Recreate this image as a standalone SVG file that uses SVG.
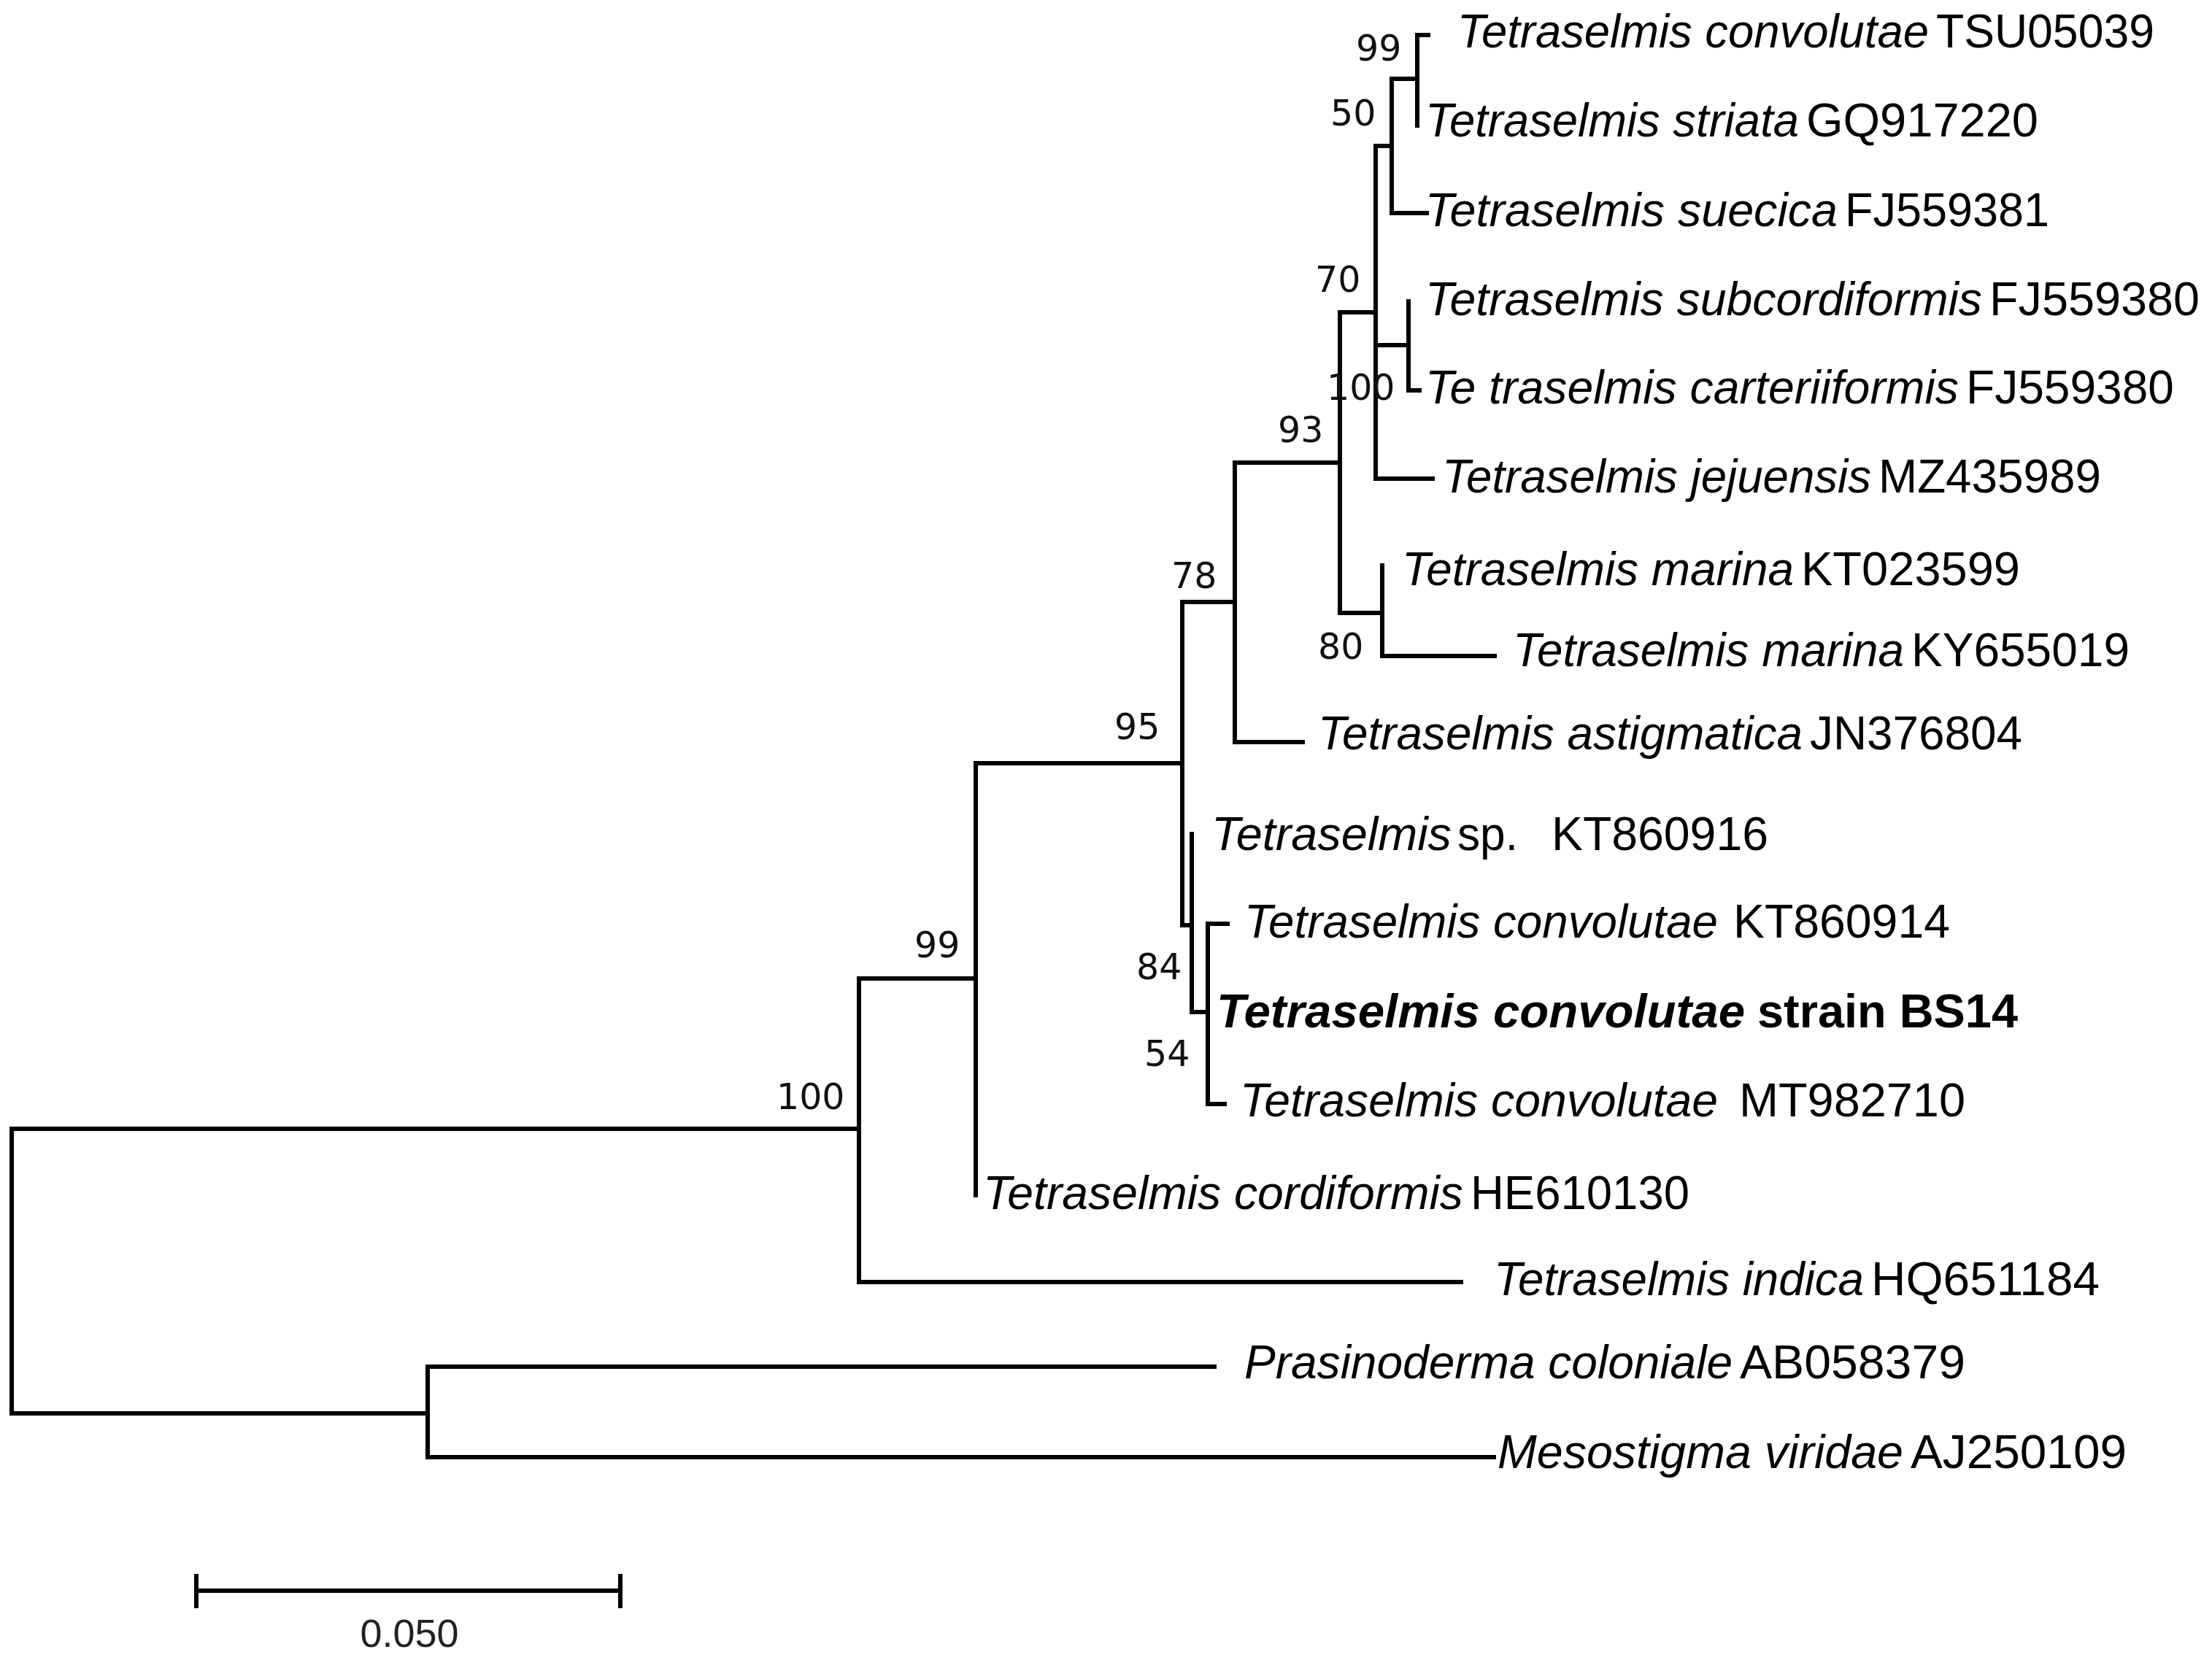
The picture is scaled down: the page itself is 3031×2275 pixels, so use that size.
<svg xmlns="http://www.w3.org/2000/svg" width="3031" height="2275" viewBox="0 0 3031 2275">
<style>
.br{fill:none;stroke:#000;stroke-width:6;stroke-linecap:square;stroke-linejoin:miter}
.lab{font-family:"Liberation Sans",Arial,sans-serif;font-size:65px;fill:#000}
.it{font-style:italic}
.b{font-weight:bold}
.bs{font-family:"DejaVu Sans",Verdana,sans-serif;font-size:49px;fill:#111}
.sc{font-family:"Liberation Sans",Arial,sans-serif;font-size:54px;fill:#222;text-anchor:middle}
</style>
<rect width="3031" height="2275" fill="#fff"/>
<g id="connectors">
<path class="br" d="M1177 1547 H16 V1937 H586"/>
<path class="br" d="M1337 1341 H1177 V1757 H2002"/>
<path class="br" d="M1620 1046 H1337 V1638"/>
<path class="br" d="M1692 825 H1620 V1268 H1633"/>
<path class="br" d="M1633 1143 V1387 H1655"/>
<path class="br" d="M1682 1266 H1655 V1513 H1678"/>
<path class="br" d="M1836 634 H1692 V1017 H1785"/>
<path class="br" d="M1885 428 H1836 V840 H1894"/>
<path class="br" d="M1894 775 V899 H2048"/>
<path class="br" d="M1907 200 H1885 V656 H1963"/>
<path class="br" d="M1942 108 H1907 V292 H1955"/>
<path class="br" d="M1957 48 H1942 V172"/>
<path class="br" d="M1885 473 H1930"/>
<path class="br" d="M1930 413 V535 H1945"/>
<path class="br" d="M1664 1873 H586 V1997 H2047"/>
</g>
<g id="bootstrap">
<text class="bs" x="1858" y="83">99</text>
<text class="bs" x="1823" y="172">50</text>
<text class="bs" x="1802" y="400">70</text>
<text class="bs" x="1818" y="548">100</text>
<text class="bs" x="1751" y="606">93</text>
<text class="bs" x="1806" y="903">80</text>
<text class="bs" x="1605" y="806">78</text>
<text class="bs" x="1527" y="1013">95</text>
<text class="bs" x="1557" y="1342">84</text>
<text class="bs" x="1568" y="1461">54</text>
<text class="bs" x="1253" y="1312">99</text>
<text class="bs" x="1064" y="1520">100</text>
</g>
<g id="leaf-TSU05039">
<text class="lab it" x="1997" y="65" textLength="646" lengthAdjust="spacingAndGlyphs">Tetraselmis convolutae</text>
<text class="lab" x="2653" y="65" textLength="299" lengthAdjust="spacingAndGlyphs">TSU05039</text>
</g>
<g id="leaf-GQ917220">
<text class="lab it" x="1953" y="187" textLength="512" lengthAdjust="spacingAndGlyphs">Tetraselmis striata</text>
<text class="lab" x="2475" y="187" textLength="318" lengthAdjust="spacingAndGlyphs">GQ917220</text>
</g>
<g id="leaf-FJ559381">
<text class="lab it" x="1953" y="310" textLength="565" lengthAdjust="spacingAndGlyphs">Tetraselmis suecica</text>
<text class="lab" x="2528" y="310" textLength="280" lengthAdjust="spacingAndGlyphs">FJ559381</text>
</g>
<g id="leaf-FJ559380-subcordiformis">
<text class="lab it" x="1953" y="432" textLength="763" lengthAdjust="spacingAndGlyphs">Tetraselmis subcordiformis</text>
<text class="lab" x="2726" y="432" textLength="288" lengthAdjust="spacingAndGlyphs">FJ559380</text>
</g>
<g id="leaf-FJ559380-carteriiformis">
<text class="lab it" x="1953" y="553" textLength="731" lengthAdjust="spacingAndGlyphs">Te traselmis carteriiformis</text>
<text class="lab" x="2694" y="553" textLength="285" lengthAdjust="spacingAndGlyphs">FJ559380</text>
</g>
<g id="leaf-MZ435989">
<text class="lab it" x="1976" y="675" textLength="588" lengthAdjust="spacingAndGlyphs">Tetraselmis jejuensis</text>
<text class="lab" x="2574" y="675" textLength="305" lengthAdjust="spacingAndGlyphs">MZ435989</text>
</g>
<g id="leaf-KT023599">
<text class="lab it" x="1921" y="802" textLength="537" lengthAdjust="spacingAndGlyphs">Tetraselmis marina</text>
<text class="lab" x="2468" y="802" textLength="300" lengthAdjust="spacingAndGlyphs">KT023599</text>
</g>
<g id="leaf-KY655019">
<text class="lab it" x="2073" y="913" textLength="536" lengthAdjust="spacingAndGlyphs">Tetraselmis marina</text>
<text class="lab" x="2619" y="913" textLength="299" lengthAdjust="spacingAndGlyphs">KY655019</text>
</g>
<g id="leaf-JN376804">
<text class="lab it" x="1806" y="1027" textLength="664" lengthAdjust="spacingAndGlyphs">Tetraselmis astigmatica</text>
<text class="lab" x="2480" y="1027" textLength="291" lengthAdjust="spacingAndGlyphs">JN376804</text>
</g>
<g id="leaf-KT860916">
<text class="lab it" x="1660" y="1165" textLength="329" lengthAdjust="spacingAndGlyphs">Tetraselmis</text>
<text class="lab" x="1997" y="1165" textLength="83" lengthAdjust="spacingAndGlyphs">sp.</text>
<text class="lab" x="2126" y="1165" textLength="297" lengthAdjust="spacingAndGlyphs">KT860916</text>
</g>
<g id="leaf-KT860914">
<text class="lab it" x="1705" y="1285" textLength="649" lengthAdjust="spacingAndGlyphs">Tetraselmis convolutae</text>
<text class="lab" x="2375" y="1285" textLength="297" lengthAdjust="spacingAndGlyphs">KT860914</text>
</g>
<g id="leaf-BS14">
<text class="lab it b" x="1667" y="1408" textLength="724" lengthAdjust="spacingAndGlyphs">Tetraselmis convolutae</text>
<text class="lab b" x="2408" y="1408" textLength="357" lengthAdjust="spacingAndGlyphs">strain BS14</text>
</g>
<g id="leaf-MT982710">
<text class="lab it" x="1699" y="1530" textLength="655" lengthAdjust="spacingAndGlyphs">Tetraselmis convolutae</text>
<text class="lab" x="2383" y="1530" textLength="310" lengthAdjust="spacingAndGlyphs">MT982710</text>
</g>
<g id="leaf-HE610130">
<text class="lab it" x="1347" y="1657" textLength="658" lengthAdjust="spacingAndGlyphs">Tetraselmis cordiformis</text>
<text class="lab" x="2015" y="1657" textLength="300" lengthAdjust="spacingAndGlyphs">HE610130</text>
</g>
<g id="leaf-HQ651184">
<text class="lab it" x="2047" y="1775" textLength="507" lengthAdjust="spacingAndGlyphs">Tetraselmis indica</text>
<text class="lab" x="2564" y="1775" textLength="313" lengthAdjust="spacingAndGlyphs">HQ651184</text>
</g>
<g id="leaf-AB058379">
<text class="lab it" x="1705" y="1889" textLength="669" lengthAdjust="spacingAndGlyphs">Prasinoderma coloniale</text>
<text class="lab" x="2384" y="1889" textLength="309" lengthAdjust="spacingAndGlyphs">AB058379</text>
</g>
<g id="leaf-AJ250109">
<text class="lab it" x="2052" y="2012" textLength="556" lengthAdjust="spacingAndGlyphs">Mesostigma viridae</text>
<text class="lab" x="2618" y="2012" textLength="296" lengthAdjust="spacingAndGlyphs">AJ250109</text>
</g>
<g id="scale-bar">
<path class="br" style="stroke-linecap:butt" d="M269 2180 H850 M269 2157 V2204 M850 2157 V2204"/>
<text class="sc" x="561" y="2257">0.050</text>
</g>
</svg>
